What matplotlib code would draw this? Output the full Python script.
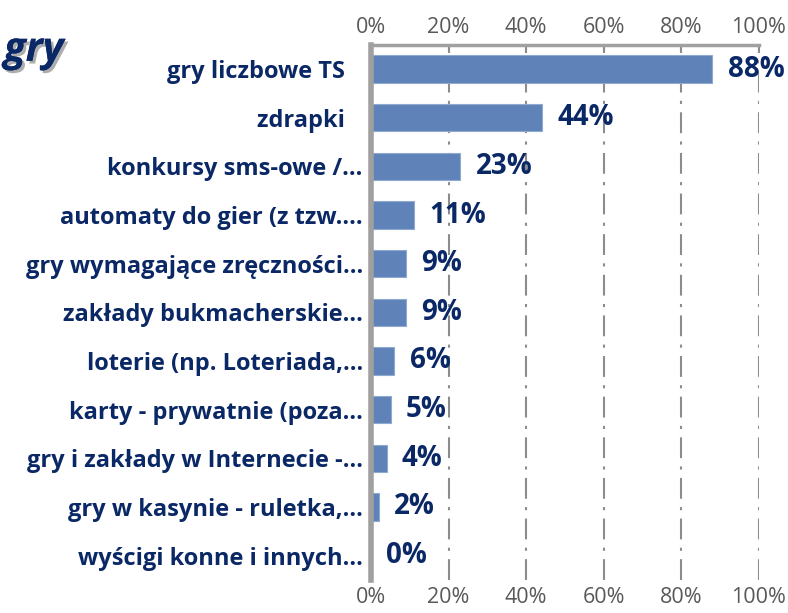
import matplotlib.pyplot as plt
import matplotlib.patheffects as pe

categories = [
    "gry liczbowe TS   ",
    "zdrapki   ",
    "konkursy sms-owe /…",
    "automaty do gier (z tzw.…",
    "gry wymagające zręczności…",
    "zakłady bukmacherskie…",
    "loterie (np. Loteriada,…",
    "karty - prywatnie (poza…",
    "gry i zakłady w Internecie -…",
    "gry w kasynie - ruletka,…",
    "wyścigi konne i innych…",
]
values = [88, 44, 23, 11, 9, 9, 6, 5, 4, 2, 0]
ticks = [0, 20, 40, 60, 80, 100]
tick_labels = ["0%", "20%", "40%", "60%", "80%", "100%"]

navy = "#0B2866"
bar_color = "#5F82B8"
grid_color = "#8C8C8C"

plt.rcParams['font.family'] = ['Open Sans', 'DejaVu Sans']

fig = plt.figure(figsize=(7.88, 6.13), dpi=100)
ax = fig.add_axes([0.471, 0.054, 0.492, 0.873])

ypos = list(range(len(categories)))
ax.barh(ypos, values, height=0.56, color=bar_color, edgecolor="#8FA9D0", linewidth=0.8, zorder=3)
ax.set_ylim(len(categories) - 0.5, -0.5)
ax.set_xlim(0, 100)

# value labels
for y, v in zip(ypos, values):
    ax.annotate(f"{v}%", (v, y), xytext=(11, 0), textcoords="offset points",
                ha="left", va="center", fontsize=20, fontweight="bold", color=navy,
                zorder=4, annotation_clip=False)

ax.set_yticks(ypos)
ax.set_yticklabels(categories, fontsize=17, fontweight="bold", color=navy)
ax.tick_params(axis="y", length=0, pad=6)

ax.set_xticks(ticks)
ax.set_xticklabels(tick_labels)
ax.tick_params(axis="x", top=True, bottom=False, labeltop=True, labelbottom=True,
               direction="in", length=6, width=1.5, color=grid_color,
               labelsize=15.5, labelcolor="#595959", pad=5)

for x in ticks[1:]:
    ax.axvline(x, color=grid_color, linewidth=1.5, linestyle=(0, (10, 4, 1.5, 4)), zorder=1)

for s in ["right", "bottom"]:
    ax.spines[s].set_visible(False)
ax.spines["top"].set_color("#A0A0A0")
ax.spines["top"].set_linewidth(2.5)
ax.spines["left"].set_color("#A0A0A0")
ax.spines["left"].set_linewidth(4)
ax.spines["left"].set_zorder(5)

fig.text(0.005, 0.918, "gry", fontsize=29, fontweight="bold", fontstyle="italic", color=navy,
         va="center", ha="left",
         path_effects=[pe.withSimplePatchShadow(offset=(2, -2), shadow_rgbFace="#777777", alpha=0.6),
                       pe.Normal()])

fig.savefig("out.png", dpi=100)
